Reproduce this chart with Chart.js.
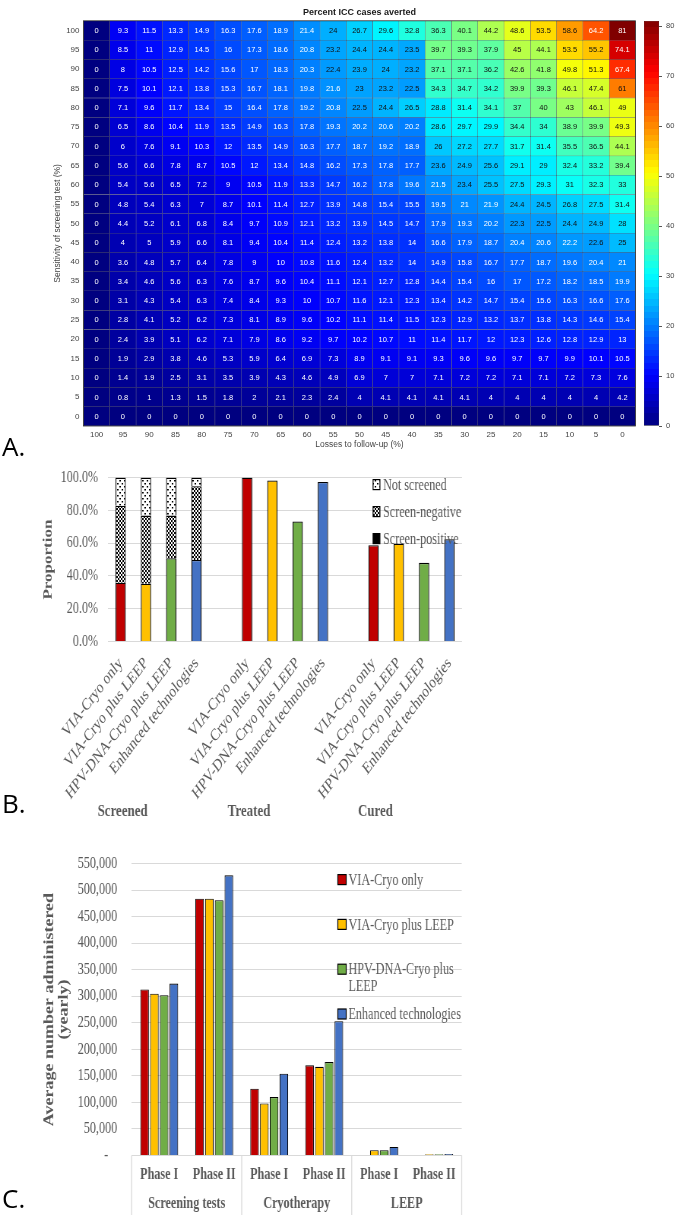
<!DOCTYPE html>
<html>
<head>
<meta charset="utf-8">
<title>ICC screening figure</title>
<script src="https://cdn.jsdelivr.net/npm/chart.js@4.4.1/dist/chart.umd.min.js"></script>
<style>
  html, body { margin: 0; padding: 0; background: #fff; }
  #page { position: relative; width: 696px; height: 1215px; overflow: hidden; }
  .panel { position: absolute; }
  /* the Excel panels in the figure were squeezed sideways */
  .squash { transform: scaleX(0.76); transform-origin: 0 0; }
  .tag { position: absolute; left: 2px; font-family: "Open Sans", sans-serif; font-size: 26px; line-height: 26px; color: #000; }
</style>
</head>
<body>
<div id="page">
  <div class="panel" style="left:0;top:0;width:640px;height:452px;"><canvas id="heatmap"></canvas></div>
  <div class="panel" style="left:640px;top:0;width:56px;height:452px;"><canvas id="colorbar"></canvas></div>
  <div class="panel squash" style="left:0;top:455px;width:916px;height:375px;"><canvas id="proportion"></canvas></div>
  <div class="panel squash" style="left:0;top:835px;width:916px;height:380px;"><canvas id="administered"></canvas></div>
  <div class="tag" style="top:433px;">A.</div>
  <div class="tag" style="top:790px;">B.</div>
  <div class="tag" style="top:1185px;">C.</div>
</div>
<script>
// ---- panel A data ----
const lossLevels = [100, 95, 90, 85, 80, 75, 70, 65, 60, 55, 50, 45, 40, 35, 30, 25, 20, 15, 10, 5, 0];
const sensitivityLevels = [100, 95, 90, 85, 80, 75, 70, 65, 60, 55, 50, 45, 40, 35, 30, 25, 20, 15, 10, 5, 0];
// one row per sensitivity level, columns follow lossLevels
const avertedRows = [
  [0, 9.3, 11.5, 13.3, 14.9, 16.3, 17.6, 18.9, 21.4, 24, 26.7, 29.6, 32.8, 36.3, 40.1, 44.2, 48.6, 53.5, 58.6, 64.2, 81],
  [0, 8.5, 11, 12.9, 14.5, 16, 17.3, 18.6, 20.8, 23.2, 24.4, 24.4, 23.5, 39.7, 39.3, 37.9, 45, 44.1, 53.5, 55.2, 74.1],
  [0, 8, 10.5, 12.5, 14.2, 15.6, 17, 18.3, 20.3, 22.4, 23.9, 24, 23.2, 37.1, 37.1, 36.2, 42.6, 41.8, 49.8, 51.3, 67.4],
  [0, 7.5, 10.1, 12.1, 13.8, 15.3, 16.7, 18.1, 19.8, 21.6, 23, 23.2, 22.5, 34.3, 34.7, 34.2, 39.9, 39.3, 46.1, 47.4, 61],
  [0, 7.1, 9.6, 11.7, 13.4, 15, 16.4, 17.8, 19.2, 20.8, 22.5, 24.4, 26.5, 28.8, 31.4, 34.1, 37, 40, 43, 46.1, 49],
  [0, 6.5, 8.6, 10.4, 11.9, 13.5, 14.9, 16.3, 17.8, 19.3, 20.2, 20.6, 20.2, 28.6, 29.7, 29.9, 34.4, 34, 38.9, 39.9, 49.3],
  [0, 6, 7.6, 9.1, 10.3, 12, 13.5, 14.9, 16.3, 17.7, 18.7, 19.2, 18.9, 26, 27.2, 27.7, 31.7, 31.4, 35.5, 36.5, 44.1],
  [0, 5.6, 6.6, 7.8, 8.7, 10.5, 12, 13.4, 14.8, 16.2, 17.3, 17.8, 17.7, 23.6, 24.9, 25.6, 29.1, 29, 32.4, 33.2, 39.4],
  [0, 5.4, 5.6, 6.5, 7.2, 9, 10.5, 11.9, 13.3, 14.7, 16.2, 17.8, 19.6, 21.5, 23.4, 25.5, 27.5, 29.3, 31, 32.3, 33],
  [0, 4.8, 5.4, 6.3, 7, 8.7, 10.1, 11.4, 12.7, 13.9, 14.8, 15.4, 15.5, 19.5, 21, 21.9, 24.4, 24.5, 26.8, 27.5, 31.4],
  [0, 4.4, 5.2, 6.1, 6.8, 8.4, 9.7, 10.9, 12.1, 13.2, 13.9, 14.5, 14.7, 17.9, 19.3, 20.2, 22.3, 22.5, 24.4, 24.9, 28],
  [0, 4, 5, 5.9, 6.6, 8.1, 9.4, 10.4, 11.4, 12.4, 13.2, 13.8, 14, 16.6, 17.9, 18.7, 20.4, 20.6, 22.2, 22.6, 25],
  [0, 3.6, 4.8, 5.7, 6.4, 7.8, 9, 10, 10.8, 11.6, 12.4, 13.2, 14, 14.9, 15.8, 16.7, 17.7, 18.7, 19.6, 20.4, 21],
  [0, 3.4, 4.6, 5.6, 6.3, 7.6, 8.7, 9.6, 10.4, 11.1, 12.1, 12.7, 12.8, 14.4, 15.4, 16, 17, 17.2, 18.2, 18.5, 19.9],
  [0, 3.1, 4.3, 5.4, 6.3, 7.4, 8.4, 9.3, 10, 10.7, 11.6, 12.1, 12.3, 13.4, 14.2, 14.7, 15.4, 15.6, 16.3, 16.6, 17.6],
  [0, 2.8, 4.1, 5.2, 6.2, 7.3, 8.1, 8.9, 9.6, 10.2, 11.1, 11.4, 11.5, 12.3, 12.9, 13.2, 13.7, 13.8, 14.3, 14.6, 15.4],
  [0, 2.4, 3.9, 5.1, 6.2, 7.1, 7.9, 8.6, 9.2, 9.7, 10.2, 10.7, 11, 11.4, 11.7, 12, 12.3, 12.6, 12.8, 12.9, 13],
  [0, 1.9, 2.9, 3.8, 4.6, 5.3, 5.9, 6.4, 6.9, 7.3, 8.9, 9.1, 9.1, 9.3, 9.6, 9.6, 9.7, 9.7, 9.9, 10.1, 10.5],
  [0, 1.4, 1.9, 2.5, 3.1, 3.5, 3.9, 4.3, 4.6, 4.9, 6.9, 7, 7, 7.1, 7.2, 7.2, 7.1, 7.1, 7.2, 7.3, 7.6],
  [0, 0.8, 1, 1.3, 1.5, 1.8, 2, 2.1, 2.3, 2.4, 4, 4.1, 4.1, 4.1, 4.1, 4, 4, 4, 4, 4, 4.2],
  [0, 0, 0, 0, 0, 0, 0, 0, 0, 0, 0, 0, 0, 0, 0, 0, 0, 0, 0, 0, 0]
];
const colorLimit = 81;
const colorbarTicks = [0, 10, 20, 30, 40, 50, 60, 70, 80];

// ---- panel B data ----
const strategies = ['VIA-Cryo only', 'VIA-Cryo plus LEEP', 'HPV-DNA-Cryo plus LEEP', 'Enhanced technologies'];
const strategyColors = ['#C00000', '#FFC000', '#70AD47', '#4472C4'];
const outcomeGroups = ['Screened', 'Treated', 'Cured'];
const screenPositive = [35.8, 35.2, 50.8, 49.8];
const screenNegative = [47.0, 41.6, 26.0, 44.9];
const notScreened = [17.2, 23.2, 23.2, 5.3];
const treatedShare = [100, 98.3, 73.2, 97.3];
const curedShare = [58.8, 59.6, 48.0, 62.4];

// ---- panel C data ----
const procedureGroups = ['Screening tests', 'Cryotherapy', 'LEEP'];
const phaseLabels = ['Phase I', 'Phase II', 'Phase I', 'Phase II', 'Phase I', 'Phase II'];
const viaCryoOnly = [313000, 484000, 126000, 170000, null, null];
const viaCryoLeep = [305000, 484000, 98000, 167000, 10000, 2400];
const hpvCryoLeep = [302000, 481000, 110000, 176000, 10000, 2400];
const enhancedTech = [324000, 528000, 154000, 253000, 16000, 2600];

const SQUASH = 0.76;
const SANS = '"Liberation Sans", Arial, sans-serif';
const SERIF = '"Liberation Serif", "Times New Roman", serif';
const GREY = '#595959';

function jetRGB(v) {
  const t = Math.min(1, Math.max(0, v / colorLimit));
  const c = (x) => Math.min(1, Math.max(0, x));
  return [c(1.5 - Math.abs(4 * t - 3)), c(1.5 - Math.abs(4 * t - 2)), c(1.5 - Math.abs(4 * t - 1))];
}
function jetCss(v) {
  const [r, g, b] = jetRGB(v);
  return `rgb(${Math.round(r * 255)},${Math.round(g * 255)},${Math.round(b * 255)})`;
}
function textOn(v) {
  const [r, g, b] = jetRGB(v);
  return (0.2126 * r + 0.7152 * g + 0.0722 * b) > 0.5 ? '#111' : '#fff';
}

// ---------------- A: heatmap ----------------
const cellLabels = {
  id: 'cellLabels',
  afterDatasetsDraw(chart) {
    const ctx = chart.ctx;
    ctx.save();
    ctx.font = '7.5px ' + SANS;
    ctx.textAlign = 'center';
    ctx.textBaseline = 'middle';
    chart.data.datasets.forEach((ds, i) => {
      chart.getDatasetMeta(i).data.forEach((bar, j) => {
        const v = ds.averted[j];
        ctx.fillStyle = textOn(v);
        ctx.fillText(String(v), bar.x, (bar.y + bar.base) / 2 + 0.5);
      });
    });
    const a = chart.chartArea;
    ctx.strokeStyle = '#262626';
    ctx.lineWidth = 0.8;
    ctx.strokeRect(a.left, a.top, a.right - a.left, a.bottom - a.top);
    ctx.restore();
  }
};

new Chart(document.getElementById('heatmap'), {
  type: 'bar',
  data: {
    labels: lossLevels.map(String),
    datasets: sensitivityLevels.map((sens, r) => ({
      label: 'Sensitivity ' + sens,
      data: lossLevels.map(() => [sens - 2.5, sens + 2.5]),
      averted: avertedRows[r],
      backgroundColor: avertedRows[r].map(jetCss),
      borderColor: 'rgba(20,20,45,0.5)',
      borderWidth: 0.5,
      borderSkipped: false,
      grouped: false,
      barPercentage: 1,
      categoryPercentage: 1
    }))
  },
  options: {
    responsive: true,
    maintainAspectRatio: false,
    animation: false,
    layout: { padding: { right: 4.5 } },
    plugins: {
      legend: { display: false },
      tooltip: { enabled: false },
      title: {
        display: true,
        fullSize: false,
        text: 'Percent ICC cases averted',
        color: '#1a1a1a',
        font: { family: SANS, size: 9, weight: 'bold' },
        padding: { top: 7, bottom: 3 }
      }
    },
    scales: {
      x: {
        grid: { display: false, drawTicks: false },
        border: { display: false },
        ticks: { color: '#444', font: { family: SANS, size: 8 }, padding: 4, maxRotation: 0, autoSkip: false },
        title: { display: true, text: 'Losses to follow-up (%)', color: '#444', font: { family: SANS, size: 8.5 }, padding: { top: 0, bottom: 2 } },
        afterFit: (s) => { s.height = 26; }
      },
      y: {
        min: -2.5,
        max: 102.5,
        afterBuildTicks: (s) => { s.ticks = sensitivityLevels.map(v => ({ value: v })); },
        grid: { display: false, drawTicks: false },
        border: { display: false },
        ticks: { color: '#444', font: { family: SANS, size: 8 }, padding: 4 },
        title: { display: true, text: 'Sensitivity of screening test (%)', color: '#444', font: { family: SANS, size: 8.5 }, padding: { top: 53, bottom: 0 } },
        afterFit: (s) => { s.width = 83.5; }
      }
    }
  },
  plugins: [cellLabels]
});

// ---------------- A: colour bar ----------------
function jetGradient(chart) {
  const { ctx, chartArea } = chart;
  if (!chartArea) return '#000080';
  const g = ctx.createLinearGradient(0, chartArea.bottom, 0, chartArea.top);
  const steps = 64;
  for (let k = 0; k < steps; k++) {
    const col = jetCss((k + 0.5) / steps * colorLimit);
    g.addColorStop(k / steps, col);
    g.addColorStop((k + 1) / steps, col);
  }
  return g;
}

new Chart(document.getElementById('colorbar'), {
  type: 'bar',
  data: {
    labels: [''],
    datasets: [{
      data: [colorLimit],
      backgroundColor: (c) => jetGradient(c.chart),
      borderColor: '#333',
      borderWidth: 0.5,
      borderSkipped: false,
      barPercentage: 1,
      categoryPercentage: 1
    }]
  },
  options: {
    responsive: true,
    maintainAspectRatio: false,
    animation: false,
    layout: { padding: { left: 4, top: 21, bottom: 26 } },
    plugins: { legend: { display: false }, tooltip: { enabled: false } },
    scales: {
      x: { display: false },
      y: {
        position: 'right',
        min: 0,
        max: colorLimit,
        afterBuildTicks: (s) => { s.ticks = colorbarTicks.map(v => ({ value: v })); },
        grid: { drawOnChartArea: false, tickLength: 3, color: '#555' },
        border: { display: false },
        ticks: { color: '#444', font: { family: SANS, size: 7.5 }, padding: 4 },
        afterFit: (s) => { s.width = 37; }
      }
    }
  }
});

// ---------------- B: proportions ----------------
function makePattern(size, paint) {
  const tile = document.createElement('canvas');
  tile.width = size;
  tile.height = size;
  const t = tile.getContext('2d');
  t.fillStyle = '#fff';
  t.fillRect(0, 0, size, size);
  t.fillStyle = '#000';
  paint(t);
  return t.createPattern(tile, 'repeat');
}
const crossPattern = makePattern(4, (t) => {
  for (let i = 0; i < 4; i++) {
    t.fillRect(i, i, 1, 1);
    t.fillRect(3 - i, i, 1, 1);
  }
});
const dotPattern = makePattern(6, (t) => {
  t.fillRect(1, 1, 2, 1.5);
  t.fillRect(4, 4, 2, 1.5);
});

const gapLabels = [...strategies, '', ...strategies, '', ...strategies];
const emptyTail = new Array(10).fill(null);
const barStyle = { borderColor: '#000', borderWidth: 1.3, barPercentage: 0.41, categoryPercentage: 1 };

const proportionLegend = {
  id: 'proportionLegend',
  afterDraw(chart) {
    const ctx = chart.ctx;
    const a = chart.chartArea;
    ctx.save();
    ctx.font = '16px ' + SERIF;
    ctx.textBaseline = 'middle';
    chart.data.datasets.slice().reverse().forEach((ds, k) => {
      const y = a.top + 7 + k * 27;
      const x = a.right - 117;
      ctx.fillStyle = Array.isArray(ds.backgroundColor) ? '#000' : ds.backgroundColor;
      ctx.fillRect(x, y - 5, 9, 10);
      ctx.strokeStyle = '#000';
      ctx.lineWidth = 1.2;
      ctx.strokeRect(x, y - 5, 9, 10);
      ctx.fillStyle = GREY;
      ctx.fillText(ds.label, a.right - 104, y + 1);
    });
    ctx.restore();
  }
};
const outcomeTitles = {
  id: 'outcomeTitles',
  afterDraw(chart) {
    const ctx = chart.ctx;
    const x = chart.scales.x;
    ctx.save();
    ctx.font = 'bold 17px ' + SERIF;
    ctx.fillStyle = GREY;
    ctx.textAlign = 'center';
    ctx.textBaseline = 'middle';
    outcomeGroups.forEach((name, g) => {
      ctx.fillText(name, x.getPixelForValue(g * 5 + 1.5) - 36 / SQUASH, chart.chartArea.bottom + 170.5);
    });
    ctx.restore();
  }
};

new Chart(document.getElementById('proportion'), {
  type: 'bar',
  data: {
    labels: gapLabels,
    datasets: [
      Object.assign({
        label: 'Screen-positive',
        data: [...screenPositive, null, ...treatedShare, null, ...curedShare],
        backgroundColor: [...strategyColors, null, ...strategyColors, null, ...strategyColors]
      }, barStyle),
      Object.assign({
        label: 'Screen-negative',
        data: [...screenNegative, ...emptyTail],
        backgroundColor: crossPattern
      }, barStyle),
      Object.assign({
        label: 'Not screened',
        data: [...notScreened, ...emptyTail],
        backgroundColor: dotPattern
      }, barStyle)
    ]
  },
  options: {
    responsive: true,
    maintainAspectRatio: false,
    animation: false,
    layout: { padding: { top: 19.5, right: 916 - 462 / SQUASH } },
    plugins: { legend: { display: false }, tooltip: { enabled: false } },
    scales: {
      x: {
        stacked: true,
        grid: { display: false, drawTicks: false },
        border: { display: false },
        ticks: { autoSkip: false, minRotation: 45, maxRotation: 45, padding: 12, color: GREY, font: { family: SERIF, size: 17 } },
        afterFit: (s) => { s.height = 375 - 186.5; }
      },
      y: {
        stacked: true,
        min: 0,
        max: 100,
        ticks: { stepSize: 20, callback: (v) => v.toFixed(1) + '%', padding: 13, color: GREY, font: { family: SERIF, size: 16 } },
        grid: { color: '#d9d9d9', drawTicks: false },
        border: { display: false },
        title: { display: true, text: 'Proportion', color: GREY, font: { family: SERIF, size: 17, weight: 'bold' }, padding: { top: 53, bottom: 0 } },
        afterFit: (s) => { s.width = 108 / SQUASH; }
      }
    }
  },
  plugins: [proportionLegend, outcomeTitles]
});

// ---------------- C: numbers administered ----------------
const adminLegend = {
  id: 'adminLegend',
  afterDraw(chart) {
    const ctx = chart.ctx;
    const a = chart.chartArea;
    const textX = a.right - 149;
    ctx.save();
    ctx.font = '16px ' + SERIF;
    ctx.textBaseline = 'middle';
    chart.data.datasets.forEach((ds, k) => {
      const y = a.top + 16 + k * 44.8;
      ctx.fillStyle = ds.backgroundColor;
      ctx.fillRect(a.right - 163, y - 5, 11, 10);
      ctx.strokeStyle = '#000';
      ctx.lineWidth = 1.2;
      ctx.strokeRect(a.right - 163, y - 5, 11, 10);
      // wrap long names onto a second line
      const lines = [];
      let cur = '';
      ds.label.split(' ').forEach((w) => {
        const test = cur ? cur + ' ' + w : w;
        if (cur && ctx.measureText(test).width > 160) { lines.push(cur); cur = w; } else { cur = test; }
      });
      lines.push(cur);
      ctx.fillStyle = GREY;
      lines.forEach((ln, i) => ctx.fillText(ln, textX, y + 1 + i * 16.3));
    });
    ctx.restore();
  }
};
const groupSeparators = {
  id: 'groupSeparators',
  afterDraw(chart) {
    const ctx = chart.ctx;
    const x2 = chart.scales.x2;
    ctx.save();
    ctx.strokeStyle = '#d9d9d9';
    ctx.lineWidth = 1.3;
    for (let i = 0; i <= procedureGroups.length; i++) {
      const px = x2.getPixelForValue(i - 0.5);
      ctx.beginPath();
      ctx.moveTo(px, chart.chartArea.bottom);
      ctx.lineTo(px, chart.height);
      ctx.stroke();
    }
    ctx.restore();
  }
};

const adminSeries = [viaCryoOnly, viaCryoLeep, hpvCryoLeep, enhancedTech];

new Chart(document.getElementById('administered'), {
  type: 'bar',
  data: {
    labels: phaseLabels,
    datasets: strategies.map((name, k) => ({
      label: name,
      data: adminSeries[k],
      backgroundColor: strategyColors[k],
      borderColor: '#000',
      borderWidth: 1.1,
      borderSkipped: 'start',
      barPercentage: 0.88,
      categoryPercentage: 0.71
    }))
  },
  options: {
    responsive: true,
    maintainAspectRatio: false,
    animation: false,
    layout: { padding: { top: 20.7, right: 916 - 461.7 / SQUASH } },
    plugins: { legend: { display: false }, tooltip: { enabled: false } },
    scales: {
      x: {
        grid: { display: false, drawTicks: false },
        border: { display: false },
        ticks: { color: GREY, font: { family: SERIF, size: 16, weight: 'bold' }, padding: 10, maxRotation: 0 },
        afterFit: (s) => { s.height = 34.5; }
      },
      x2: {
        type: 'category',
        labels: procedureGroups,
        position: 'bottom',
        offset: true,
        grid: { display: false, drawTicks: false },
        border: { display: false },
        ticks: { color: GREY, font: { family: SERIF, size: 16, weight: 'bold' }, padding: 4, maxRotation: 0 },
        afterFit: (s) => { s.height = 25; }
      },
      y: {
        min: 0,
        max: 550000,
        ticks: {
          stepSize: 50000,
          callback: (v) => v === 0 ? '-   ' : v.toLocaleString('en-US'),
          padding: 19,
          color: GREY,
          font: { family: SERIF, size: 16 }
        },
        grid: { color: '#d9d9d9', drawTicks: false },
        border: { display: false },
        title: {
          display: true,
          text: ['Average number administered', '(yearly)'],
          color: GREY,
          font: { family: SERIF, size: 18, weight: 'bold', lineHeight: 1.02 },
          padding: { top: 56.6, bottom: 0 }
        },
        afterFit: (s) => { s.width = 131.7 / SQUASH; }
      }
    }
  },
  plugins: [adminLegend, groupSeparators]
});
</script>
</body>
</html>
